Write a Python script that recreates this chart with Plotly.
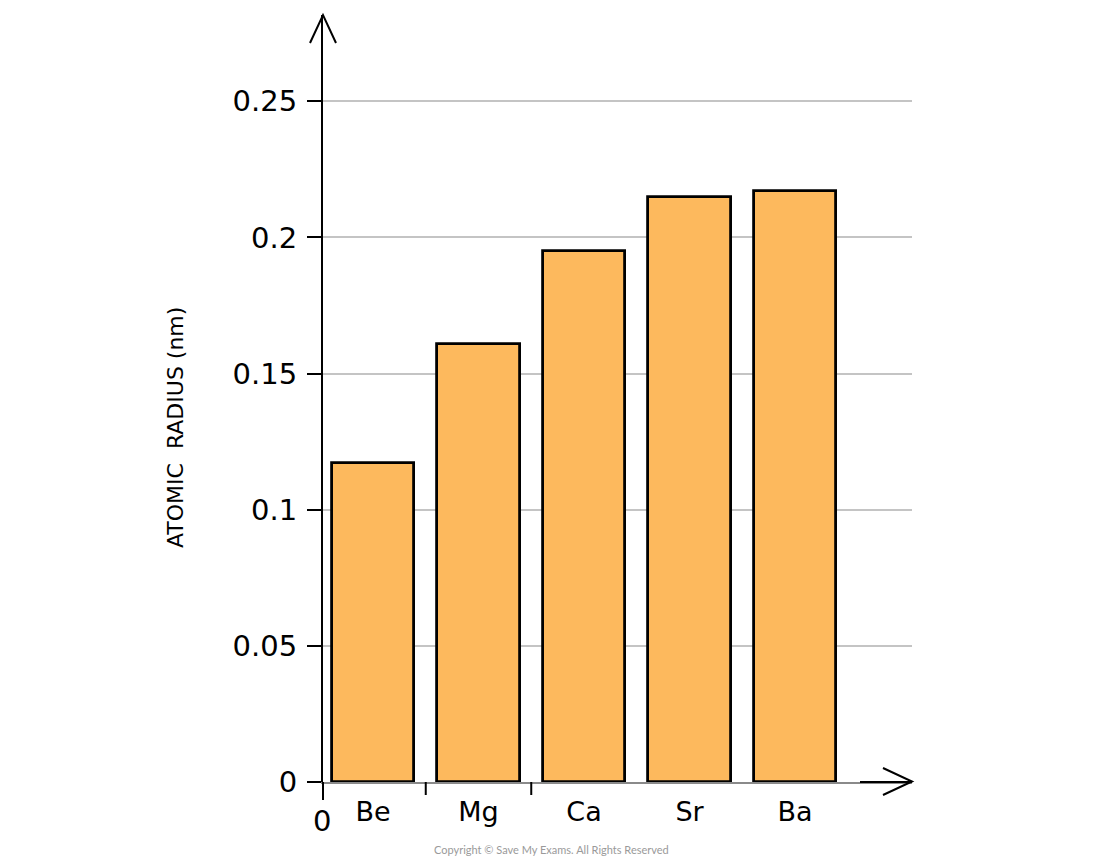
import plotly.graph_objects as go

elements = ["Be", "Mg", "Ca", "Sr", "Ba"]
radius_nm = [0.117, 0.161, 0.195, 0.215, 0.217]
y_tick_vals = [0, 0.05, 0.1, 0.15, 0.2, 0.25]
y_tick_text = ["0", "0.05", "0.1", "0.15", "0.2", "0.25"]

W, H = 1100, 867
OFF = 8  # page body margin
L, R, T, B = 323, 912, 15, 782
pw, ph = R - L, B - T

def px(x):
    return (x - L) / pw

def py(y):
    return (B - y) / ph

FONT = "DejaVu Sans, sans-serif"

fig = go.Figure()
fig.add_trace(go.Bar(
    x=list(range(len(elements))), y=radius_nm,
    width=0.78,
    marker=dict(color="#FDB95D", line=dict(color="#000000", width=2.8)),
    hoverinfo="x+y",
))

cat_px = 105.5
x0 = -(373 - L) / cat_px
x1 = x0 + pw / cat_px
px_per_unit = 2722.8

shapes = []
shapes.append(dict(type="line", xref="paper", yref="paper", x0=0, x1=0,
                   y0=0, y1=py(800), line=dict(color="black", width=2)))
shapes.append(dict(type="path", xref="paper", yref="paper",
                   path=f"M {px(310)} {py(43)} L {px(323)} {py(15)} L {px(336)} {py(43)}",
                   line=dict(color="black", width=2)))
shapes.append(dict(type="path", xref="paper", yref="paper",
                   path=f"M {px(883)} {py(768)} L {px(912)} {py(781.5)} L {px(883)} {py(795)}",
                   line=dict(color="black", width=2)))
shapes.append(dict(type="line", xref="paper", yref="paper", x0=px(860), x1=px(912),
                   y0=0, y1=0, line=dict(color="black", width=2)))
for xb in [0.5, 1.5]:
    shapes.append(dict(type="line", xref="x", yref="paper", x0=xb, x1=xb,
                       y0=0, y1=py(795), line=dict(color="black", width=2)))

fig.update_layout(
    width=W, height=H,
    margin=dict(l=L - OFF, r=W - R + OFF, t=T - OFF, b=H - B + OFF, pad=0),
    paper_bgcolor="white", plot_bgcolor="white",
    showlegend=False,
    bargap=0,
    xaxis=dict(
        range=[x0, x1], tickmode="array",
        tickvals=list(range(len(elements))), ticktext=elements,
        showgrid=False, zeroline=False,
        showline=True, linecolor="#8a8a8a", linewidth=2,
        ticks="", tickfont=dict(family=FONT, size=27, color="black"),
        ticklabelstandoff=5,
    ),
    yaxis=dict(
        range=[0, ph / px_per_unit], tickmode="array",
        tickvals=y_tick_vals, ticktext=y_tick_text,
        showgrid=True, gridcolor="#c4c4c4", gridwidth=2,
        zeroline=False,
        showline=True, linecolor="black", linewidth=2,
        ticks="outside", ticklen=14, tickwidth=2, tickcolor="black",
        tickfont=dict(family=FONT, size=29, color="black"),
        ticklabelstandoff=4,
    ),
    shapes=shapes,
    annotations=[
        dict(text="ATOMIC  RADIUS (nm)", xref="paper", yref="paper",
             x=px(175), y=py(428), textangle=-90, showarrow=False,
             font=dict(family=FONT, size=22, color="black"),
             xanchor="center", yanchor="middle"),
        dict(text="0", xref="paper", yref="paper", x=px(322), y=py(821),
             showarrow=False, font=dict(family=FONT, size=29, color="black"),
             xanchor="center", yanchor="middle"),
        dict(text="Copyright © Save My Exams. All Rights Reserved", xref="paper", yref="paper",
             x=px(551), y=py(849), showarrow=False,
             font=dict(family="Lato, sans-serif", size=11, color="#9a9a9a"),
             xanchor="center", yanchor="middle"),
    ],
)

fig.write_html("out.html")
